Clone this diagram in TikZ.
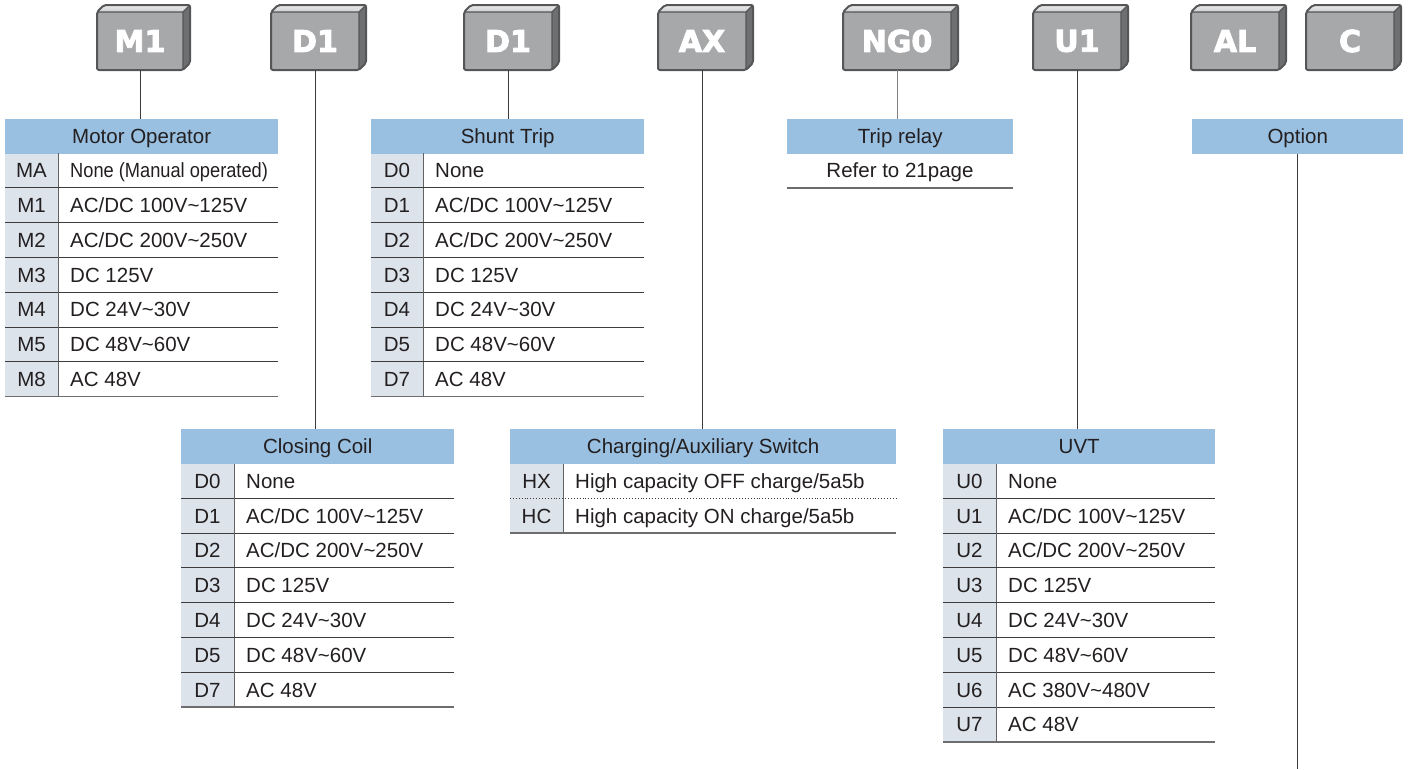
\documentclass[tikz,border=0pt]{standalone}
\usepackage{fontspec}
\usepackage{graphicx}
\setmainfont{Liberation Sans}
\newfontfamily\boxfont{DejaVu Sans}[BoldFeatures={FakeBold=3}]
\definecolor{boxface}{HTML}{A7A8AA}
\definecolor{boxtopA}{HTML}{ECECED}
\definecolor{boxtopB}{HTML}{CDCED0}
\definecolor{boxside}{HTML}{6E6F71}
\definecolor{boxedge}{HTML}{555658}
\definecolor{hdrblue}{HTML}{99C0E1}
\definecolor{codebg}{HTML}{DCE3EB}
\definecolor{txt}{HTML}{231F20}
\definecolor{rline}{HTML}{3C3C3C}
\pgfdeclarelayer{bg}
\pgfsetlayers{bg,main}
\newcommand\tld{\textasciitilde}
% selector box: name, x1, x2, label
\newcommand\selbox[4]{%
  \shade[top color=boxtopA,bottom color=boxtopB] (#2,12) -- (#2+7,5) -- (#3,5) -- (#3-7,12) -- cycle;
  \fill[boxside] (#3-7,12) -- (#3,5) -- (#3,63) -- (#3-7,70) -- cycle;
  \node[boxlbl,minimum width={#3-#2-7}] (#1) at ({(#2+#3-7)/2},41) {#4};
  \draw[boxedge,line width=1.1pt] (#2,12) -- (#3-7,12) -- (#3,5) (#3-7,12) -- (#3-7,70);
  \draw[boxedge,line width=2pt,rounded corners=2pt,line join=round] (#2,12) -- (#2+7,5) -- (#3,5) -- (#3,63) -- (#3-7,70) -- (#2,70) -- cycle;
}
% table row: name, x1, xsep, x2, top, code, desc, separator style
\newcommand\trow[8]{%
  \begin{pgfonlayer}{bg}
  \fill[codebg] (#2,#5) rectangle (#3,#5+34.8);
  \end{pgfonlayer}
  \node[codetxt] (#1c) at ({(#2+#3)/2},#5+17.4) {#6};
  \node[desctxt] (#1d) at (#3+12,#5+17.4) {#7};
  \draw[colline] (#3,#5) -- (#3,#5+34.8);
  \draw[#8] (#2,#5+34.8) -- (#4,#5+34.8);
}
\begin{document}
\begin{tikzpicture}[x=1pt,y=-1pt,
  boxlbl/.style={fill=boxface,minimum height=58,inner sep=0,text=white,
    font=\boxfont\bfseries\fontsize{30}{32}\selectfont},
  hdr/.style={fill=hdrblue,anchor=north west,minimum height=34.5,inner sep=0,
    text=txt,font=\fontsize{20.5}{24}\selectfont,text height=14.7pt,text depth=0pt},
  codetxt/.style={inner sep=0,text=txt,font=\fontsize{20.5}{24}\selectfont,text height=14.7pt,text depth=0pt},
  desctxt/.style={codetxt,anchor=west},
  colline/.style={draw=rline!80,line width=1pt},
  rowline/.style={draw=rline,line width=0.9pt},
  lastline/.style={draw=rline!75,line width=1.3pt},
  dotline/.style={draw=rline,line width=0.9pt,dotted},
  conn/.style={draw=rline,line width=1pt},
  connlight/.style={draw=rline!65,line width=1pt}]
\useasboundingbox (0,0) rectangle (1414,769);

% ---- selector boxes ----
\selbox{bm1}{97}{190}{M1}
\selbox{bd1a}{271}{366}{D1}
\selbox{bd1b}{464}{559}{D1}
\selbox{bax}{658}{753}{AX}
\selbox{bng}{843}{958}{NG0}
\selbox{bu1}{1033}{1128}{U1}
\selbox{bal}{1191}{1286}{AL}
\selbox{bc}{1306}{1401}{C}

% ---- Motor Operator ----
\node[hdr,minimum width=273] (mo-h) at (5,119) {Motor Operator};
\trow{mo1}{5}{58}{278}{153}{MA}{\scalebox{0.89}[1]{None (Manual operated)}}{rowline}
\trow{mo2}{5}{58}{278}{153+34.8}{M1}{AC/DC 100V\tld 125V}{rowline}
\trow{mo3}{5}{58}{278}{153+2*34.8}{M2}{AC/DC 200V\tld 250V}{rowline}
\trow{mo4}{5}{58}{278}{153+3*34.8}{M3}{DC 125V}{rowline}
\trow{mo5}{5}{58}{278}{153+4*34.8}{M4}{DC 24V\tld 30V}{rowline}
\trow{mo6}{5}{58}{278}{153+5*34.8}{M5}{DC 48V\tld 60V}{rowline}
\trow{mo7}{5}{58}{278}{153+6*34.8}{M8}{AC 48V}{lastline}

% ---- Shunt Trip ----
\node[hdr,minimum width=273] (st-h) at (371,119) {Shunt Trip};
\trow{st1}{371}{423}{644}{153}{D0}{None}{rowline}
\trow{st2}{371}{423}{644}{153+34.8}{D1}{AC/DC 100V\tld 125V}{rowline}
\trow{st3}{371}{423}{644}{153+2*34.8}{D2}{AC/DC 200V\tld 250V}{rowline}
\trow{st4}{371}{423}{644}{153+3*34.8}{D3}{DC 125V}{rowline}
\trow{st5}{371}{423}{644}{153+4*34.8}{D4}{DC 24V\tld 30V}{rowline}
\trow{st6}{371}{423}{644}{153+5*34.8}{D5}{DC 48V\tld 60V}{rowline}
\trow{st7}{371}{423}{644}{153+6*34.8}{D7}{AC 48V}{lastline}

% ---- Trip relay ----
\node[hdr,minimum width=226] (tr-h) at (787,119) {Trip relay};
\node[codetxt] (tr-t) at (900,170.5) {Refer to 21page};
\coordinate (tr-l) at (787,188);
\coordinate (tr-r) at (1013,188);
\draw[lastline] (tr-l) -- (tr-r);

% ---- Option ----
\node[hdr,minimum width=211] (op-h) at (1192,119) {Option};

% ---- Closing Coil ----
\node[hdr,minimum width=273] (cc-h) at (181,429) {Closing Coil};
\trow{cc1}{181}{234}{454}{463.5}{D0}{None}{rowline}
\trow{cc2}{181}{234}{454}{463.5+34.8}{D1}{AC/DC 100V\tld 125V}{rowline}
\trow{cc3}{181}{234}{454}{463.5+2*34.8}{D2}{AC/DC 200V\tld 250V}{rowline}
\trow{cc4}{181}{234}{454}{463.5+3*34.8}{D3}{DC 125V}{rowline}
\trow{cc5}{181}{234}{454}{463.5+4*34.8}{D4}{DC 24V\tld 30V}{rowline}
\trow{cc6}{181}{234}{454}{463.5+5*34.8}{D5}{DC 48V\tld 60V}{rowline}
\trow{cc7}{181}{234}{454}{463.5+6*34.8}{D7}{AC 48V}{lastline}

% ---- Charging/Auxiliary Switch ----
\node[hdr,minimum width=386] (ch-h) at (510,429) {Charging/Auxiliary Switch};
\trow{ch1}{510}{563}{896}{463.5}{HX}{High capacity OFF charge/5a5b}{dotline}
\trow{ch2}{510}{563}{896}{463.5+34.8}{HC}{High capacity ON charge/5a5b}{lastline}

% ---- UVT ----
\node[hdr,minimum width=272] (uv-h) at (943,429) {UVT};
\trow{uv1}{943}{996}{1215}{463.5}{U0}{None}{rowline}
\trow{uv2}{943}{996}{1215}{463.5+34.8}{U1}{AC/DC 100V\tld 125V}{rowline}
\trow{uv3}{943}{996}{1215}{463.5+2*34.8}{U2}{AC/DC 200V\tld 250V}{rowline}
\trow{uv4}{943}{996}{1215}{463.5+3*34.8}{U3}{DC 125V}{rowline}
\trow{uv5}{943}{996}{1215}{463.5+4*34.8}{U4}{DC 24V\tld 30V}{rowline}
\trow{uv6}{943}{996}{1215}{463.5+5*34.8}{U5}{DC 48V\tld 60V}{rowline}
\trow{uv7}{943}{996}{1215}{463.5+6*34.8}{U6}{AC 380V\tld 480V}{rowline}
\trow{uv8}{943}{996}{1215}{463.5+7*34.8}{U7}{AC 48V}{lastline}

% ---- connectors ----
\draw[conn] (bm1.south) -- (bm1.south |- mo-h.north);
\draw[conn] (bd1a.south) -- (bd1a.south |- cc-h.north);
\draw[conn] (bd1b.south) -- (bd1b.south |- st-h.north);
\draw[conn] (bax.south) -- (bax.south |- ch-h.north);
\draw[connlight] (bng.south) -- (bng.south |- tr-h.north);
\draw[conn] (bu1.south) -- (bu1.south |- uv-h.north);
\coordinate (op-end) at (1297,769);
\draw[conn] (op-h.south -| op-end) -- (op-end);
\end{tikzpicture}
\end{document}
